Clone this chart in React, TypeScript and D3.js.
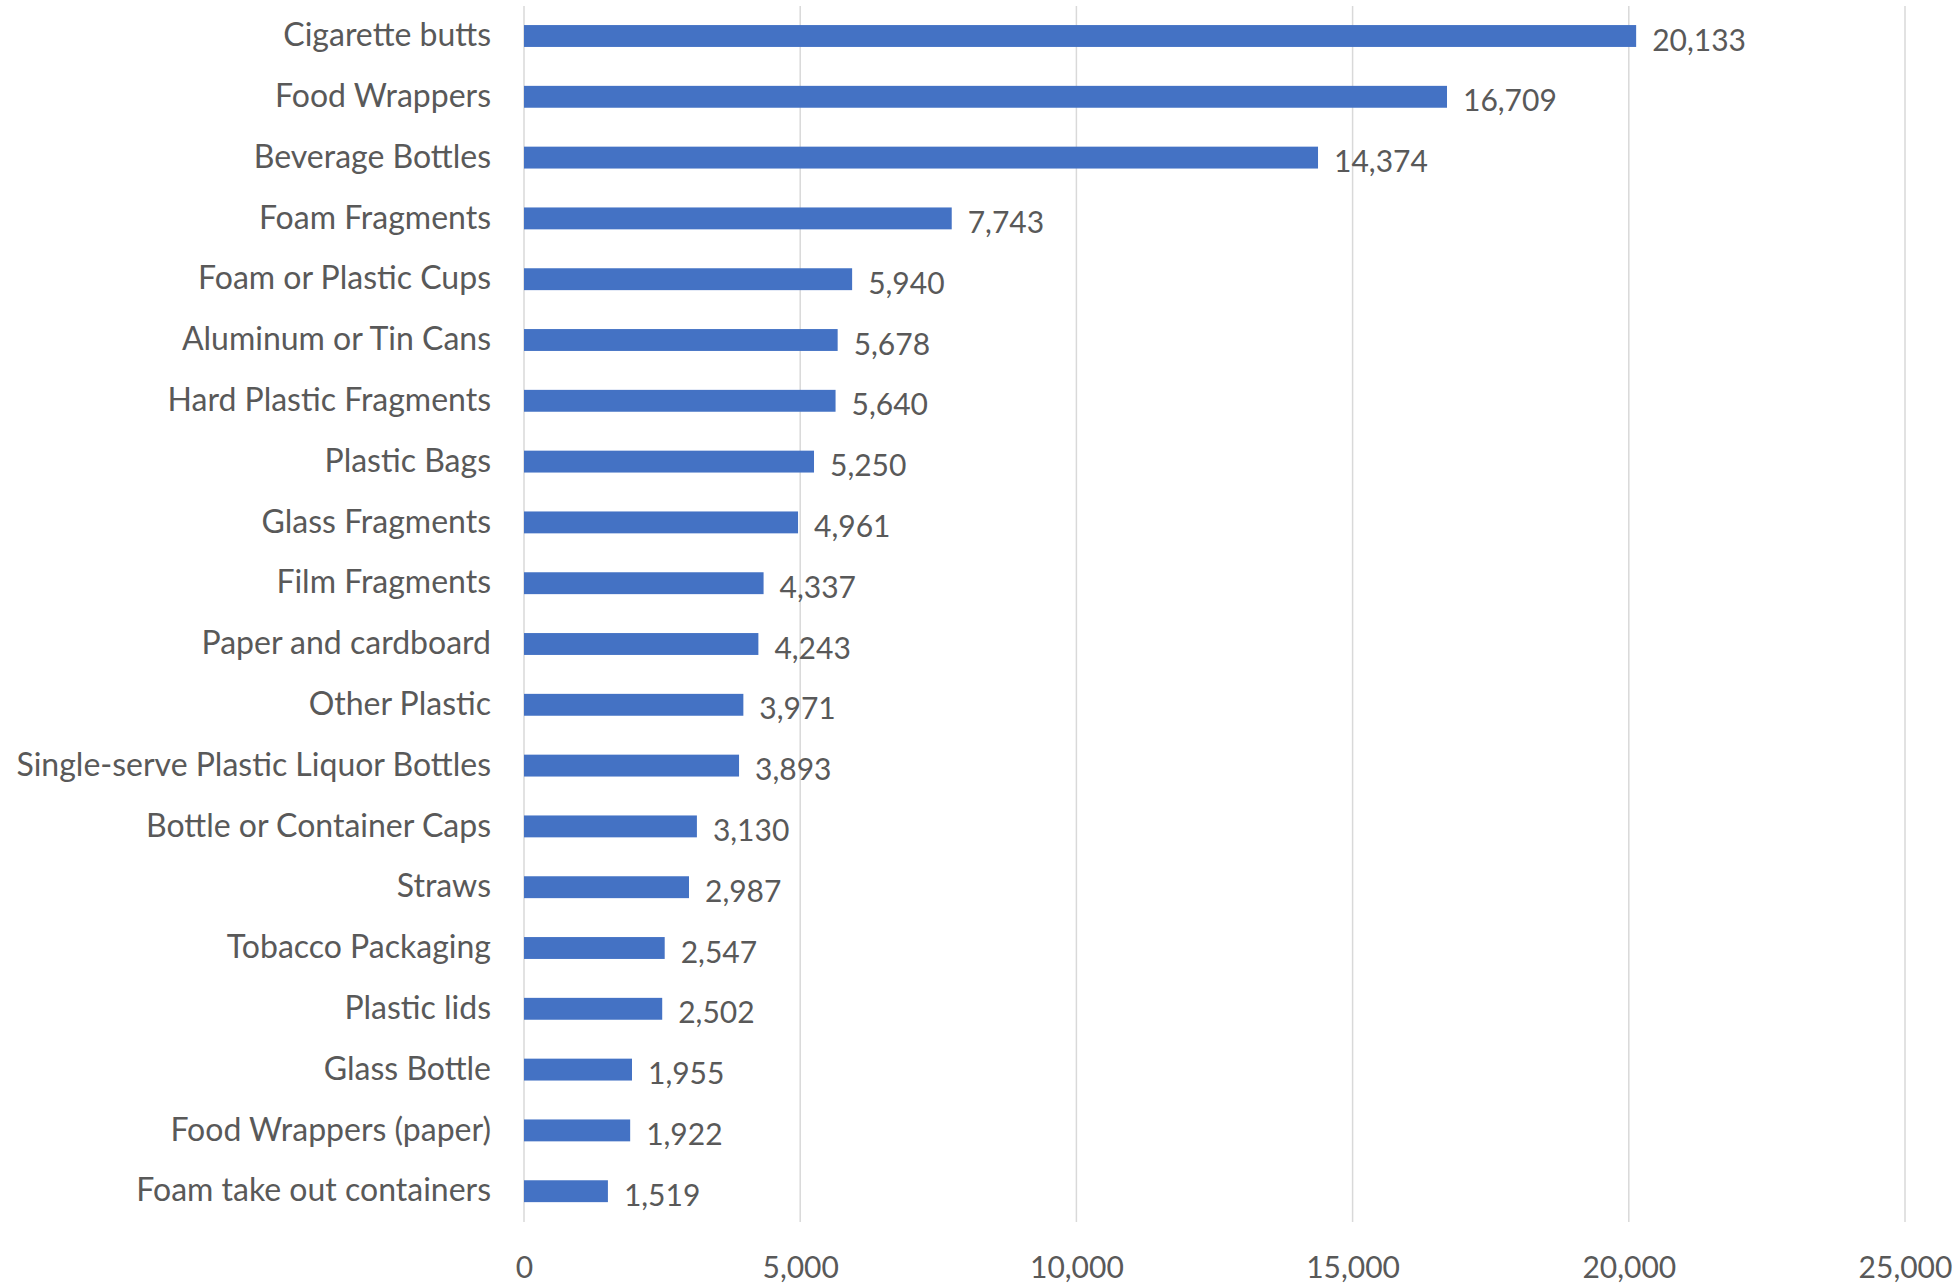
import React, { useEffect, useRef } from "react";
import * as d3 from "d3";

const categories = [
  "Cigarette butts",
  "Food Wrappers",
  "Beverage Bottles",
  "Foam Fragments",
  "Foam or Plastic Cups",
  "Aluminum or Tin Cans",
  "Hard Plastic Fragments",
  "Plastic Bags",
  "Glass Fragments",
  "Film Fragments",
  "Paper and cardboard",
  "Other Plastic",
  "Single-serve Plastic Liquor Bottles",
  "Bottle or Container Caps",
  "Straws",
  "Tobacco Packaging",
  "Plastic lids",
  "Glass Bottle",
  "Food Wrappers (paper)",
  "Foam take out containers",
];

const counts = [
  20133, 16709, 14374, 7743, 5940, 5678, 5640, 5250, 4961, 4337, 4243, 3971,
  3893, 3130, 2987, 2547, 2502, 1955, 1922, 1519,
];

const xTicks = [0, 5000, 10000, 15000, 20000, 25000];

const FONT = "Lato, 'Open Sans', sans-serif";
const TEXT = "#595959";

export default function App() {
  const svgRef = useRef<SVGSVGElement>(null);

  useEffect(() => {
    if (!svgRef.current) return;
    const svg = d3.select(svgRef.current);
    svg.selectAll("*").remove();

    const width = 1959;
    const height = 1284;
    const margin = { top: 6, right: 54, bottom: 62, left: 524 };
    const innerWidth = width - margin.left - margin.right;
    const innerHeight = height - margin.top - margin.bottom;

    const g = svg
      .append("g")
      .attr("transform", `translate(${margin.left},${margin.top})`);

    const xScale = d3.scaleLinear().domain([0, 25000]).range([0, innerWidth]);

    // bars are centred from ~36px to ~1191px, step ~60.8px
    const step = 60.8;
    const y0 = 36 - margin.top - (0.32 + 0.18) * step;
    const yScale = d3
      .scaleBand<string>()
      .domain(categories)
      .range([y0, y0 + step * categories.length])
      .paddingInner(0.64)
      .paddingOuter(0.32);

    const fmt = d3.format(",");

    // gridlines
    g.selectAll("line.grid")
      .data(xTicks)
      .join("line")
      .attr("class", "grid")
      .attr("x1", (d) => xScale(d))
      .attr("x2", (d) => xScale(d))
      .attr("y1", 0)
      .attr("y2", innerHeight)
      .attr("stroke", "#d9d9d9")
      .attr("stroke-width", 1.5);

    // bars
    g.selectAll("rect.bar")
      .data(counts)
      .join("rect")
      .attr("class", "bar")
      .attr("x", xScale(0))
      .attr("y", (_, i) => yScale(categories[i]) || 0)
      .attr("width", (d) => xScale(d) - xScale(0))
      .attr("height", yScale.bandwidth())
      .attr("fill", "#4472c4");

    // value labels
    g.selectAll("text.val")
      .data(counts)
      .join("text")
      .attr("class", "val")
      .attr("x", (d) => xScale(d) + 16)
      .attr("y", (_, i) => (yScale(categories[i]) || 0) + yScale.bandwidth() / 2 + 4)
      .attr("dy", "0.35em")
      .attr("fill", TEXT)
      .style("font-family", FONT)
      .style("font-size", "30px")
      .text((d) => fmt(d));

    // category labels
    const yAxis = g.append("g").call(d3.axisLeft(yScale).tickSize(0).tickPadding(33));
    yAxis.select(".domain").remove();
    yAxis
      .selectAll("text")
      .attr("fill", TEXT)
      .style("font-family", FONT)
      .style("font-size", "32px");

    // x axis labels
    const xAxis = g
      .append("g")
      .attr("transform", `translate(0,${innerHeight})`)
      .call(
        d3
          .axisBottom(xScale)
          .tickValues(xTicks)
          .tickSize(0)
          .tickPadding(35)
          .tickFormat((d) => fmt(d as number))
      );
    xAxis.select(".domain").remove();
    xAxis
      .selectAll("text")
      .attr("fill", TEXT)
      .style("font-family", FONT)
      .style("font-size", "30px");
  }, []);

  return (
    <svg
      ref={svgRef}
      width={1959}
      height={1284}
      style={{ position: "absolute", left: 0, top: 0, background: "#fff" }}
    />
  );
}
